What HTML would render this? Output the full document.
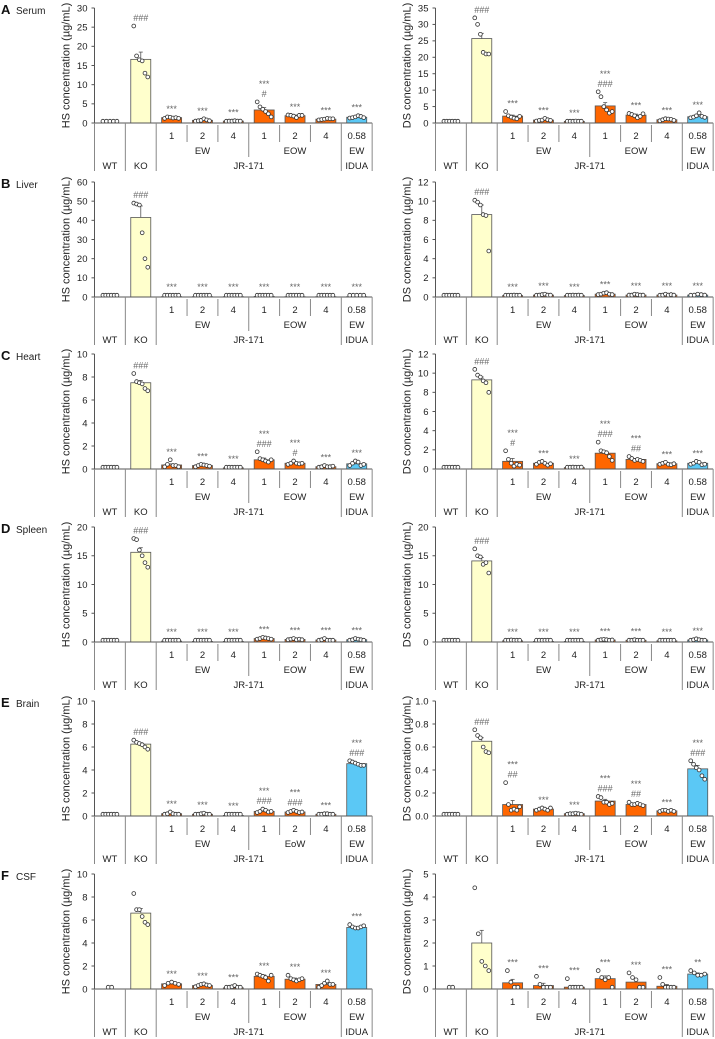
<!DOCTYPE html>
<html><head><meta charset="utf-8"><style>
html,body{margin:0;padding:0;background:#fff;}
svg{display:block;font-family:"Liberation Sans",Arial,sans-serif;}
</style></head><body>
<svg id="fig" width="715" height="1039" viewBox="0 0 715 1039" xmlns="http://www.w3.org/2000/svg"></svg>
<script>
// ---- shared categories ----
const groups = ["WT","KO","EW1","EW2","EW4","EOW1","EOW2","EOW4","IDUA"];
const doseLabels = ["1","2","4","1","2","4","0.58"];
// ---- panel data (means, SEM, individual points, annotations) ----
const A_HS_max = 30, A_HS_step = 5;
const A_HS_mean = [0.2,16.6,1.4,0.7,0.5,3.4,1.9,1.0,1.5];
const A_HS_err = [0.05,1.9,0.2,0.15,0.1,0.6,0.2,0.15,0.2];
const A_HS_pts = [[0.1,0.1,0.2,0.3,0.2],[25.3,17.5,16.5,16.2,13,12],[1.2,1.6,1.5,1.3,1.4,1.2],[0.5,0.6,0.7,1.1,0.8,0.6],[0.4,0.5,0.5,0.6,0.5,0.5],[5.5,4.2,3.6,3.0,2.4,1.6],[2.1,2.0,1.8,1.4,2.0,2.0],[0.8,0.9,1.0,1.2,1.1,1.1],[1.3,1.4,1.6,1.9,1.7,1.4]];
const A_HS_ann = ["","###","***","***","***","***\n#","***","***","***"];

const A_DS_max = 35, A_DS_step = 5;
const A_DS_mean = [0.3,25.7,2.1,0.9,0.5,5.2,2.4,1.0,1.9];
const A_DS_err = [0.05,1.6,0.3,0.15,0.1,1.0,0.3,0.15,0.3];
const A_DS_pts = [[0.2,0.3,0.2,0.4,0.3,0.3],[32,30,27,21.5,21,21],[3.5,2.2,1.8,1.5,1.3,2.0],[0.6,0.8,0.9,1.4,1.0,0.8],[0.4,0.5,0.5,0.6,0.5,0.5],[9.5,8,5,4,3,3.5],[2.9,2.6,2.2,1.6,2.0,2.8],[0.7,1.0,1.3,1.2,1.1,0.8],[1.6,1.8,2.2,3.1,2.0,1.7]];
const A_DS_ann = ["","###","***","***","***","***\n###","***","***","***"];

const B_HS_max = 60, B_HS_step = 10;
const B_HS_mean = [0.1,41.5,0.2,0.2,0.2,0.3,0.2,0.2,0.2];
const B_HS_err = [0,6,0,0,0,0,0,0,0];
const B_HS_pts = [[0.1,0.1,0.1,0.1,0.1,0.1],[49,48.5,48,33.5,20,15.5],[0.2,0.2,0.2,0.2,0.2,0.2],[0.2,0.2,0.2,0.2,0.2,0.2],[0.2,0.2,0.2,0.2,0.2,0.2],[0.3,0.3,0.3,0.3,0.3,0.3],[0.2,0.2,0.2,0.2,0.2,0.2],[0.2,0.2,0.2,0.2,0.2,0.2],[0.2,0.2,0.2,0.2,0.2]];
const B_HS_ann = ["","###","***","***","***","***","***","***","***"];

const B_DS_max = 12, B_DS_step = 2;
const B_DS_mean = [0.05,8.6,0.15,0.2,0.15,0.3,0.2,0.2,0.2];
const B_DS_err = [0,1.0,0,0.03,0,0.05,0.03,0.03,0.03];
const B_DS_pts = [[0.05,0.05,0.05,0.05,0.05,0.05],[10.1,9.9,9.6,8.6,8.5,4.8],[0.1,0.15,0.15,0.2,0.15,0.1],[0.15,0.2,0.25,0.3,0.2,0.2],[0.1,0.15,0.2,0.15,0.2,0.15],[0.25,0.3,0.4,0.45,0.3,0.25],[0.2,0.2,0.3,0.25,0.2,0.2],[0.15,0.2,0.3,0.2,0.25,0.2],[0.15,0.2,0.3,0.25,0.2]];
const B_DS_ann = ["","###","***","***","***","***","***","***","***"];

const C_HS_max = 10, C_HS_step = 2;
const C_HS_mean = [0.05,7.5,0.35,0.3,0.1,0.8,0.5,0.2,0.45];
const C_HS_err = [0,0.2,0.1,0.05,0.02,0.15,0.05,0.03,0.08];
const C_HS_pts = [[0.05,0.05,0.05,0.05,0.05,0.05],[8.3,7.6,7.5,7.4,7.0,6.8],[0.2,0.4,0.8,0.3,0.3,0.2],[0.2,0.3,0.4,0.35,0.3,0.25],[0.05,0.1,0.1,0.15,0.1,0.1],[1.5,0.9,0.8,0.7,0.6,0.8],[0.4,0.5,0.7,0.5,0.45,0.5],[0.15,0.2,0.3,0.2,0.2,0.25],[0.3,0.5,0.7,0.6,0.3,0.4]];
const C_HS_ann = ["","###","***","***","***","***\n###","***\n#","***","***"];

const C_DS_max = 12, C_DS_step = 2;
const C_DS_mean = [0.05,9.3,0.8,0.6,0.15,1.65,1.0,0.55,0.6];
const C_DS_err = [0,0.3,0.3,0.08,0.03,0.15,0.1,0.06,0.08];
const C_DS_pts = [[0.05,0.05,0.05,0.05,0.05,0.05],[10.4,9.8,9.6,9.2,9.0,8.0],[1.9,1.0,0.6,0.3,0.5,0.4],[0.5,0.7,0.8,0.6,0.4,0.55],[0.1,0.15,0.2,0.15,0.1,0.2],[2.8,1.9,1.8,1.7,1.3,0.9],[1.3,1.1,0.9,1.0,0.9,0.8],[0.5,0.6,0.7,0.5,0.45,0.55],[0.5,0.6,0.8,0.7,0.45,0.5]];
const C_DS_ann = ["","###","***\n#","***","***","***\n###","***\n##","***","***"];

const D_HS_max = 20, D_HS_step = 5;
const D_HS_mean = [0.05,15.6,0.15,0.1,0.1,0.6,0.45,0.35,0.4];
const D_HS_err = [0,0.8,0.03,0.02,0.02,0.05,0.05,0.05,0.05];
const D_HS_pts = [[0.05,0.05,0.05,0.05,0.05,0.05],[18,17.8,16,15,13.8,13],[0.1,0.2,0.3,0.15,0.1,0.1],[0.1,0.1,0.1,0.1,0.1,0.1],[0.1,0.1,0.1,0.1,0.1,0.1],[0.5,0.6,0.8,0.7,0.6,0.5],[0.4,0.5,0.6,0.4,0.5,0.4],[0.3,0.4,0.6,0.3,0.3,0.3],[0.3,0.4,0.6,0.5,0.4,0.3]];
const D_HS_ann = ["","###","***","***","***","***","***","***","***"];

const D_DS_max = 20, D_DS_step = 5;
const D_DS_mean = [0.05,14.1,0.2,0.1,0.1,0.35,0.3,0.2,0.35];
const D_DS_err = [0,0.6,0.03,0.02,0.02,0.05,0.04,0.04,0.05];
const D_DS_pts = [[0.05,0.05,0.05,0.05,0.05,0.05],[16.2,15,14.8,13.5,13.8,12],[0.15,0.2,0.35,0.2,0.15,0.2],[0.1,0.1,0.1,0.1,0.1,0.1],[0.1,0.1,0.1,0.1,0.1,0.1],[0.3,0.4,0.45,0.4,0.3,0.35],[0.25,0.3,0.4,0.3,0.25,0.3],[0.15,0.2,0.3,0.2,0.2,0.15],[0.3,0.4,0.55,0.4,0.3,0.3]];
const D_DS_ann = ["","###","***","***","***","***","***","***","***"];

const E_HS_max = 10, E_HS_step = 2;
const E_HS_mean = [0.05,6.25,0.2,0.15,0.05,0.4,0.35,0.15,4.55];
const E_HS_err = [0,0.12,0.04,0.03,0.01,0.06,0.05,0.03,0.08];
const E_HS_pts = [[0.05,0.05,0.05,0.05,0.05,0.05],[6.6,6.4,6.3,6.2,6.0,5.8],[0.1,0.2,0.35,0.2,0.15,0.1],[0.1,0.15,0.2,0.25,0.15,0.1],[0.03,0.05,0.05,0.06,0.05,0.05],[0.3,0.4,0.6,0.5,0.35,0.4],[0.3,0.4,0.5,0.4,0.3,0.35],[0.1,0.15,0.2,0.2,0.15,0.15],[4.8,4.7,4.6,4.5,4.4,4.4]];
const E_HS_ann = ["","###","***","***","***","***\n###","***\n###","***","***\n###"];

const E_DS_max = 1.0, E_DS_step = 0.2;
const E_DS_mean = [0.005,0.65,0.1,0.06,0.02,0.13,0.1,0.045,0.41];
const E_DS_err = [0,0.03,0.035,0.008,0.004,0.015,0.01,0.005,0.03];
const E_DS_pts = [[0.005,0.005,0.005,0.005,0.005,0.005],[0.75,0.7,0.68,0.6,0.56,0.55],[0.29,0.1,0.05,0.06,0.05,0.08],[0.05,0.06,0.07,0.06,0.05,0.07],[0.01,0.02,0.02,0.025,0.02,0.015],[0.17,0.16,0.12,0.12,0.1,0.11],[0.12,0.1,0.1,0.11,0.1,0.09],[0.04,0.05,0.05,0.04,0.05,0.04],[0.48,0.45,0.42,0.4,0.35,0.32]];
const E_DS_ann = ["","###","***\n##","***","***","***\n###","***\n##","***","***\n###"];

const F_HS_max = 10, F_HS_step = 2;
const F_HS_mean = [0,6.6,0.45,0.3,0.1,1.1,0.85,0.4,5.35];
const F_HS_err = [0,0.4,0.05,0.03,0.05,0.12,0.1,0.08,0.08];
const F_HS_pts = [[0,0],[8.3,6.9,6.9,6.3,5.8,5.6],[0.3,0.5,0.6,0.5,0.4],[0.2,0.3,0.4,0.45,0.35,0.3],[0,0.05,0.2,0.3,0.05,0],[1.3,1.2,1.1,1.0,0.7,1.2],[1.2,0.9,0.8,0.7,0.8,0.9],[0,0.3,0.5,0.7,0.4,0.4],[5.6,5.4,5.3,5.3,5.4,5.5]];
const F_HS_ann = ["","","***","***","***","***","***","***","***"];

const F_DS_max = 5, F_DS_step = 1;
const F_DS_mean = [0,2.0,0.27,0.15,0.08,0.45,0.3,0.12,0.65];
const F_DS_err = [0,0.55,0.15,0.1,0.07,0.12,0.12,0.08,0.05];
const F_DS_pts = [[0,0],[4.4,2.4,1.2,1.0,0.8],[0.8,0.3,0,0],[0.55,0.2,0,0,0],[0.45,0,0,0,0,0],[0.8,0.5,0.4,0.5,0],[0.7,0.5,0.4,0,0],[0.5,0.2,0,0,0,0],[0.8,0.7,0.6,0.6,0.65]];
const F_DS_ann = ["","","***","***","***","***","***","***","**"];

const panelLetters = ["A","B","C","D","E","F"];
const panelTitles = ["Serum","Liver","Heart","Spleen","Brain","CSF"];
const panelTops = [8,182,354,527,701,874];

const NS = "http://www.w3.org/2000/svg";
const svg = document.getElementById("fig");
function mk(tag, attrs, parent, text){
  const e = document.createElementNS(NS, tag);
  for (const k in attrs) e.setAttribute(k, attrs[k]);
  if (text !== undefined) e.textContent = text;
  (parent||svg).appendChild(e);
  return e;
}
const H = 115, CW = 30.85, BW = 20;
const fills = ["#ffffff","#ffffcc","#ff6600","#ff6600","#ff6600","#ff6600","#ff6600","#ff6600","#5bc8f5"];

function drawChart(x0, top, max, step, means, errs, pts, anns, yTitle, eowLabel, name){
  const g = mk("g", {});
  
  
  const y = v => top + H - v / max * H;
  const xc = i => x0 + CW * (i + 0.5);
  const zero = top + H;
  const ax = mk("line", {x1:x0,y1:top,x2:x0,y2:zero,stroke:"#555","stroke-width":1}, g);
  
  
  const nt = Math.round(max / step);
  for (let k = 0; k <= nt; k++){
    const v = k * step, yy = y(v);
    mk("line", {x1:x0-3,y1:yy,x2:x0,y2:yy,stroke:"#555","stroke-width":1}, g);
    const t = mk("text", {x:x0-7,y:yy+3.3,"font-size":9.5,"text-anchor":"end",fill:"#222"}, g, step < 1 ? v.toFixed(1) : String(v));
    
    
  }
  const yt = mk("text", {x:0,y:0,"font-size":11,"text-anchor":"middle",fill:"#222",transform:`translate(${x0-25},${top+H/2}) rotate(-90)`}, g, yTitle);
  
  
  for (let i = 0; i < groups.length; i++){
    const m = means[i];
    if (i > 0){
      const r = mk("rect", {x:xc(i)-BW/2,y:y(m),width:BW,height:Math.max(0,zero-y(m)),fill:fills[i],stroke:"#555","stroke-width":0.8}, g);
      
      
    }
    if (errs[i] > 0){
      const e1 = y(m), e2 = y(m + errs[i]);
      mk("line", {x1:xc(i),y1:e1,x2:xc(i),y2:e2,stroke:"#555","stroke-width":0.8}, g);
      mk("line", {x1:xc(i)-2,y1:e2,x2:xc(i)+2,y2:e2,stroke:"#555","stroke-width":0.8}, g);
    }
    const p = pts[i], n = p.length;
    const spread = Math.min(14, (n-1)*3.5);
    let topV = m + errs[i];
    for (let j = 0; j < n; j++){
      const px = xc(i) + (n > 1 ? (j - (n-1)/2) * (spread/(n-1)) : 0);
      const c = mk("circle", {cx:px,cy:Math.min(y(p[j]),zero-1.8),r:1.9,fill:"#fff",stroke:"#333","stroke-width":0.8}, g);
      
      
      if (p[j] > topV) topV = p[j];
    }
    if (anns[i]){
      const lines = anns[i].split("\n");
      const base = Math.min(y(topV), zero - 2) - 5;
      for (let L = 0; L < lines.length; L++){
        const ty = base - (lines.length - 1 - L) * 10;
        const t = mk("text", {x:xc(i),y:ty,"font-size":9,"text-anchor":"middle",fill:"#666"}, g, lines[L]);
        
        
      }
    }
  }
  const xa = mk("line", {x1:x0,y1:zero,x2:x0+9*CW,y2:zero,stroke:"#555","stroke-width":1}, g);
  
  
  const tb = mk("g", {}, g);
  
  
  const sep = (k, y1, y2) => mk("line", {x1:x0+k*CW,y1:zero+y1,x2:x0+k*CW,y2:zero+y2,stroke:"#888","stroke-width":1}, tb);
  [0,1,2,8,9].forEach(k => sep(k, 0, 48));
  sep(5, 0, 34);
  [3,4,6,7].forEach(k => sep(k, 2, 19));
  const txt = (cx, yy, s) => mk("text", {x:cx,y:zero+yy,"font-size":9.5,"text-anchor":"middle",fill:"#222"}, tb, s);
  for (let i = 0; i < doseLabels.length; i++) txt(xc(i+2), 16, doseLabels[i]);
  txt(x0 + 3.5*CW, 31, "EW");
  txt(x0 + 6.5*CW, 31, eowLabel);
  txt(xc(8), 31, "EW");
  txt(xc(0), 46, "WT");
  txt(xc(1), 46, "KO");
  txt(x0 + 5*CW, 46, "JR-171");
  txt(xc(8), 46, "IDUA");
}

const sets = [
  [A_HS_max,A_HS_step,A_HS_mean,A_HS_err,A_HS_pts,A_HS_ann, A_DS_max,A_DS_step,A_DS_mean,A_DS_err,A_DS_pts,A_DS_ann],
  [B_HS_max,B_HS_step,B_HS_mean,B_HS_err,B_HS_pts,B_HS_ann, B_DS_max,B_DS_step,B_DS_mean,B_DS_err,B_DS_pts,B_DS_ann],
  [C_HS_max,C_HS_step,C_HS_mean,C_HS_err,C_HS_pts,C_HS_ann, C_DS_max,C_DS_step,C_DS_mean,C_DS_err,C_DS_pts,C_DS_ann],
  [D_HS_max,D_HS_step,D_HS_mean,D_HS_err,D_HS_pts,D_HS_ann, D_DS_max,D_DS_step,D_DS_mean,D_DS_err,D_DS_pts,D_DS_ann],
  [E_HS_max,E_HS_step,E_HS_mean,E_HS_err,E_HS_pts,E_HS_ann, E_DS_max,E_DS_step,E_DS_mean,E_DS_err,E_DS_pts,E_DS_ann],
  [F_HS_max,F_HS_step,F_HS_mean,F_HS_err,F_HS_pts,F_HS_ann, F_DS_max,F_DS_step,F_DS_mean,F_DS_err,F_DS_pts,F_DS_ann]
];
for (let p = 0; p < 6; p++){
  const top = panelTops[p], s = sets[p];
  const lt = mk("text", {x:1,y:top+6,"font-size":13,"font-weight":"bold",fill:"#111"}, svg, panelLetters[p]);
  
  
  const tt = mk("text", {x:16,y:top+6,"font-size":10,fill:"#222"}, svg, panelTitles[p]);
  
  
  drawChart(94.5, top, s[0], s[1], s[2], s[3], s[4], s[5], "HS concentration (\u00b5g/mL)", p === 4 ? "EoW" : "EOW", "hs-chart-" + panelLetters[p].toLowerCase());
  drawChart(435.5, top, s[6], s[7], s[8], s[9], s[10], s[11], "DS concentration (\u00b5g/mL)", "EOW", "ds-chart-" + panelLetters[p].toLowerCase());
}
</script>
</body></html>
